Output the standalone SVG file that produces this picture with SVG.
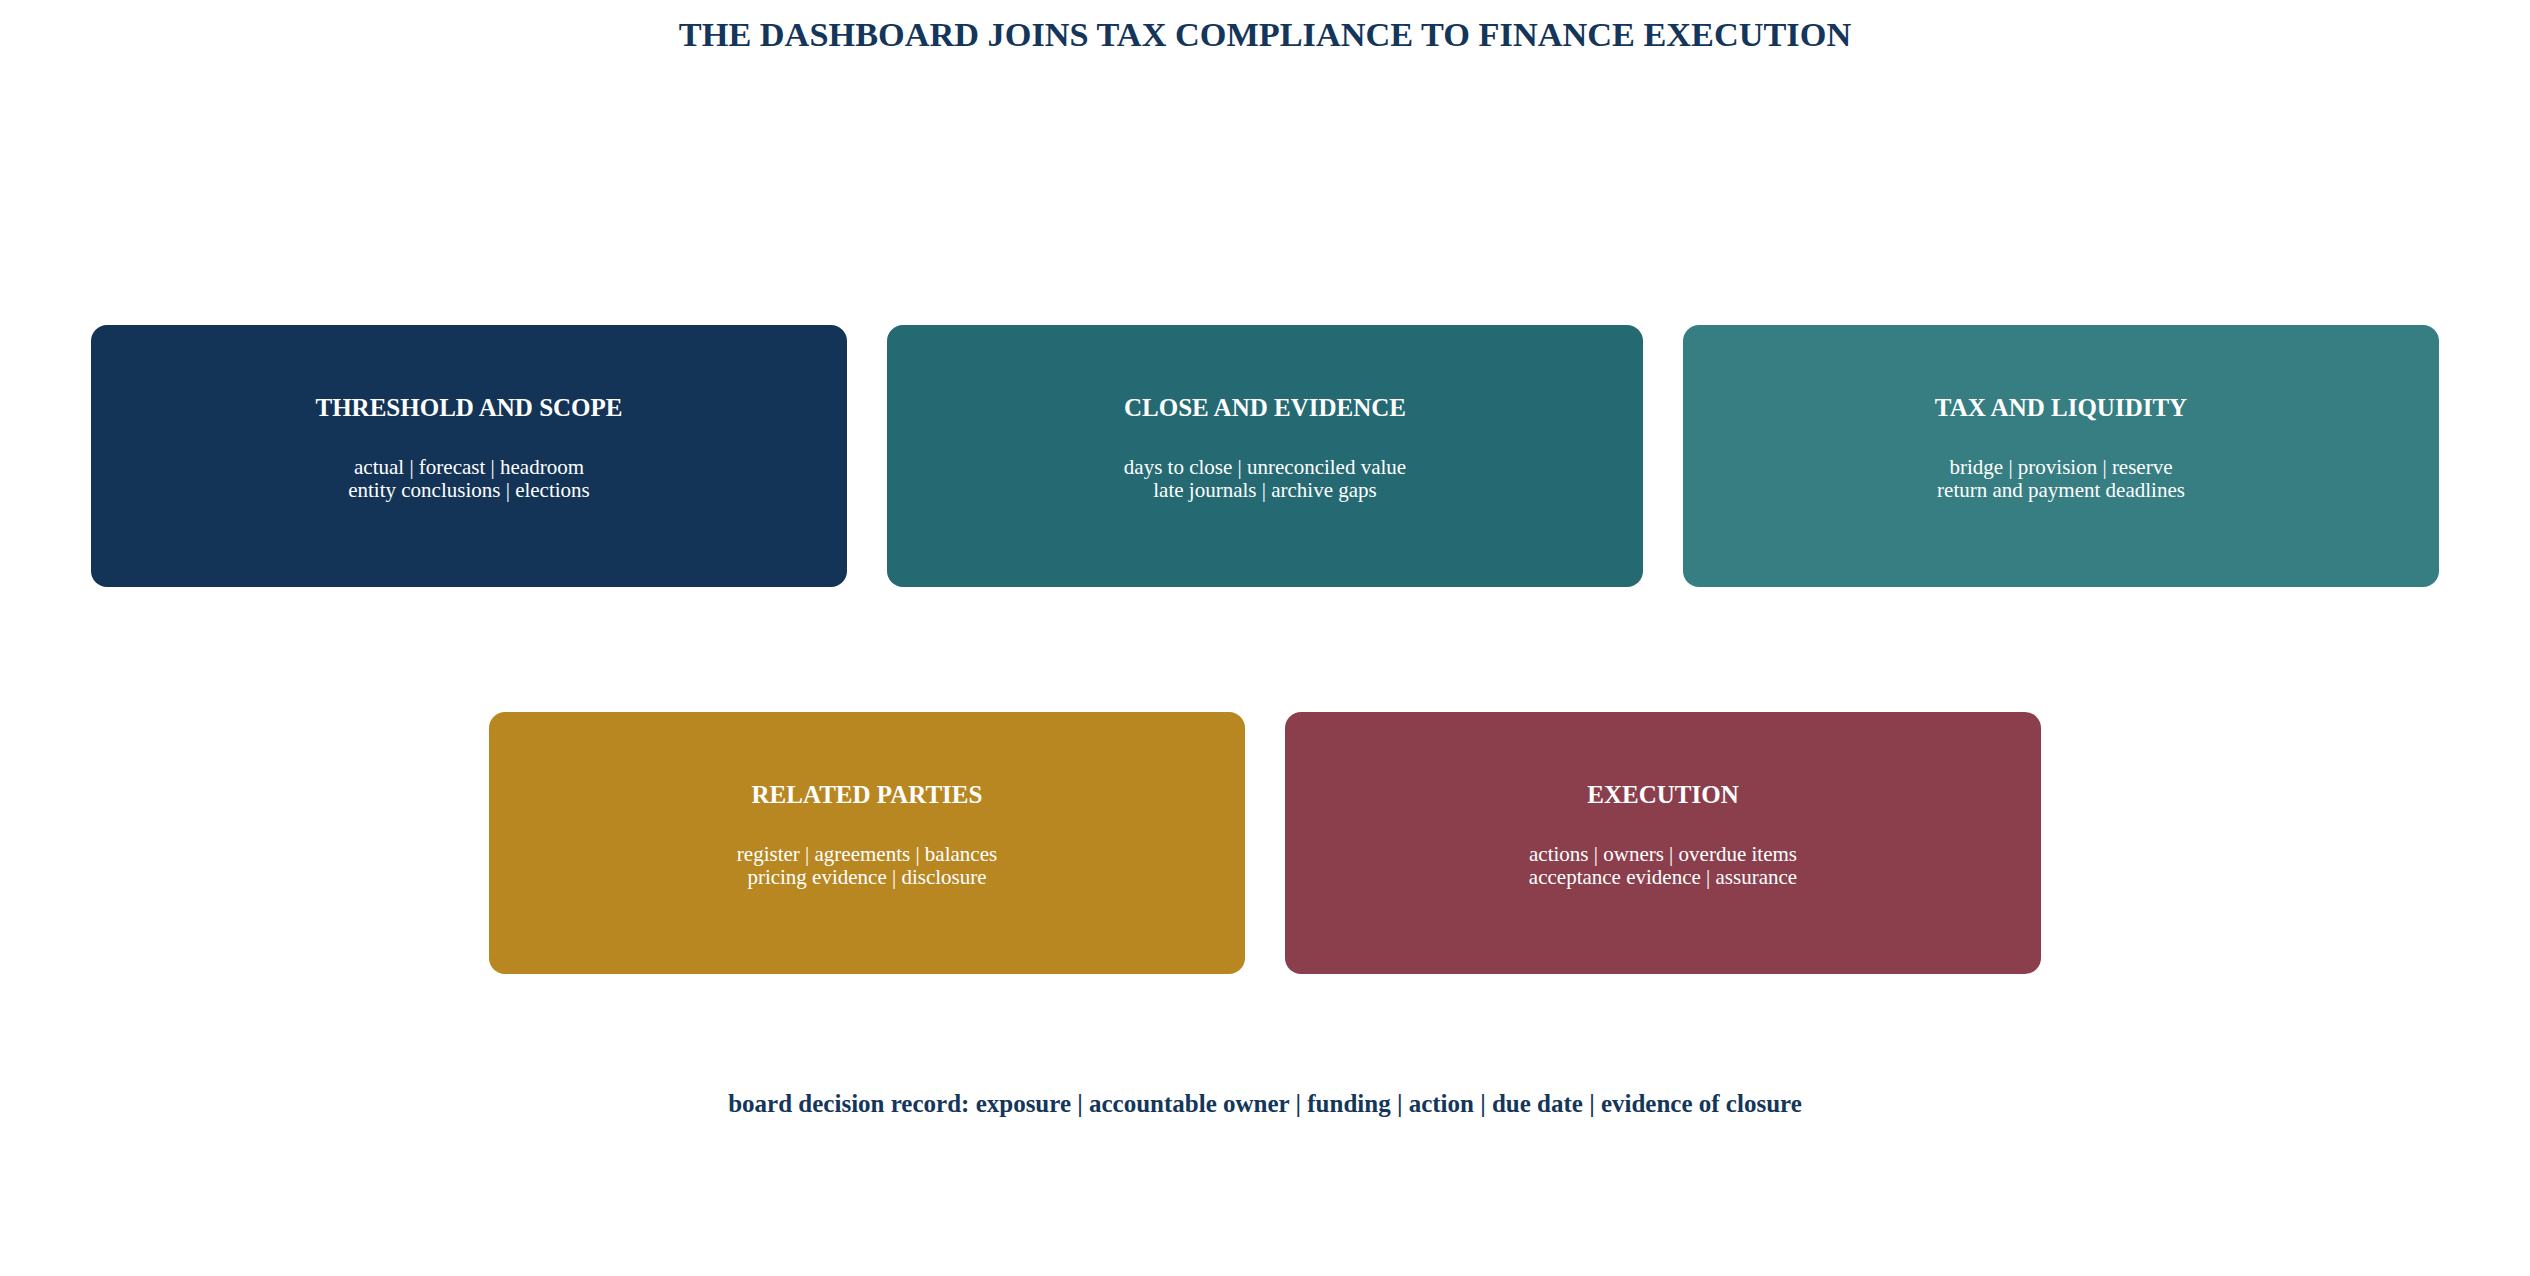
<svg xmlns="http://www.w3.org/2000/svg" width="2530" height="1276" viewBox="0 0 2530 1276">
<style>
.box{stroke:none}
.ttl{font-family:"Liberation Serif","Times New Roman",serif;font-weight:bold;font-size:25px;fill:#ffffff;text-anchor:middle}
.sub{font-family:"Liberation Serif","Times New Roman",serif;font-size:21px;fill:#ffffff;text-anchor:middle}
.head{font-family:"Liberation Serif","Times New Roman",serif;font-weight:bold;font-size:34.3px;fill:#14365a;text-anchor:middle}
.foot{font-family:"Liberation Serif","Times New Roman",serif;font-weight:bold;font-size:25px;fill:#14365a;text-anchor:middle}
</style>
<rect width="2530" height="1276" fill="#ffffff"/>
<text class="head" x="1265" y="46">THE DASHBOARD JOINS TAX COMPLIANCE TO FINANCE EXECUTION</text>
<g id="connectors"></g>
<g id="threshold-and-scope">
<rect class="box" x="91" y="325" width="756" height="262" rx="16" fill="#143457"/>
<text class="ttl" x="469" y="416">THRESHOLD AND SCOPE</text>
<text class="sub" x="469" y="474">actual | forecast | headroom</text>
<text class="sub" x="469" y="497">entity conclusions | elections</text>
</g>
<g id="close-and-evidence">
<rect class="box" x="887" y="325" width="756" height="262" rx="16" fill="#256a73"/>
<text class="ttl" x="1265" y="416">CLOSE AND EVIDENCE</text>
<text class="sub" x="1265" y="474">days to close | unreconciled value</text>
<text class="sub" x="1265" y="497">late journals | archive gaps</text>
</g>
<g id="tax-and-liquidity">
<rect class="box" x="1683" y="325" width="756" height="262" rx="16" fill="#367e82"/>
<text class="ttl" x="2061" y="416">TAX AND LIQUIDITY</text>
<text class="sub" x="2061" y="474">bridge | provision | reserve</text>
<text class="sub" x="2061" y="497">return and payment deadlines</text>
</g>
<g id="related-parties">
<rect class="box" x="489" y="712" width="756" height="262" rx="16" fill="#b88722"/>
<text class="ttl" x="867" y="803">RELATED PARTIES</text>
<text class="sub" x="867" y="861">register | agreements | balances</text>
<text class="sub" x="867" y="884">pricing evidence | disclosure</text>
</g>
<g id="execution">
<rect class="box" x="1285" y="712" width="756" height="262" rx="16" fill="#8b3f4d"/>
<text class="ttl" x="1663" y="803">EXECUTION</text>
<text class="sub" x="1663" y="861">actions | owners | overdue items</text>
<text class="sub" x="1663" y="884">acceptance evidence | assurance</text>
</g>
<text class="foot" x="1265" y="1112">board decision record: exposure | accountable owner | funding | action | due date | evidence of closure</text>
</svg>
